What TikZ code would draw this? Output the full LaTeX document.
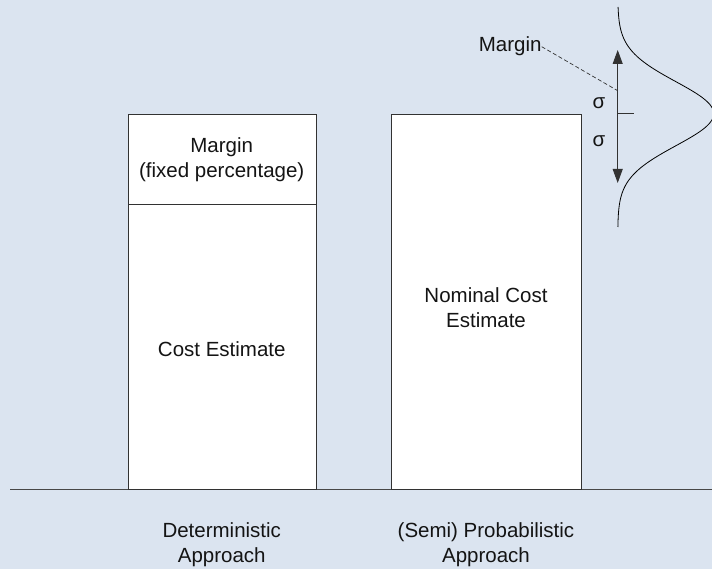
\documentclass[tikz,border=0pt]{standalone}
\usepackage{fontspec}
\setmainfont{Liberation Sans}
\usetikzlibrary{arrows.meta}
\definecolor{canvasbg}{RGB}{219,228,240}
\definecolor{edge}{RGB}{50,50,50}
\definecolor{txt}{RGB}{20,20,20}
\begin{document}
\begin{tikzpicture}[x=1pt,y=-1pt,
  every node/.style={font=\fontsize{20.5}{25}\selectfont, text=txt},
  stackbox/.style={draw=edge, line width=0.9pt, fill=white, anchor=north west,
    inner sep=0pt},
  caption/.style={align=center, inner sep=0pt},
  sigmalbl/.style={inner sep=0pt},
  spread/.style={draw=edge, line width=0.9pt,
    {Triangle[length=14pt,width=10pt]}-{Triangle[length=14pt,width=10pt]}},
  leader/.style={draw=edge, line width=0.7pt, dash pattern=on 4pt off 2.5pt},
  bell/.style={draw=black, line width=0.8pt}
]
% canvas
\fill[canvasbg] (0,0) rectangle (712,569);
\useasboundingbox (0,0) rectangle (712,569);

% ground line
\coordinate (gl) at (10,489);
\coordinate (gr) at (712,489);
\draw[draw=edge!90, line width=1pt] (gl) -- (gr);

% deterministic stack
\node[stackbox, minimum width=188.5pt, minimum height=89.7pt] (margin) at (127.5,114) {};
\node[stackbox, minimum width=188.5pt, minimum height=285.3pt] (cost) at (127.5,203.7) {};
\node[caption] (margintxt) at (221.75,160) {Margin\\(fixed percentage)};
\node[caption] (costtxt) at (221.75,349) {Cost Estimate};

% probabilistic stack
\node[stackbox, minimum width=189.4pt, minimum height=375pt] (nominal) at (391.3,114) {};
\node[caption] (nomtxt) at (486,308) {Nominal Cost\\Estimate};

% captions
\node[caption] (detcap) at (221.75,545) {Deterministic\\Approach};
\node[caption] (probcap) at (486,545) {(Semi) Probabilistic\\Approach};

% spread of the nominal estimate
\coordinate (sigtop) at (617.7,50);
\coordinate (sigbot) at (617.7,183);
\coordinate (mean) at (617.7,113.7);
\coordinate (meanr) at (634.3,113.7);
\coordinate (mhit) at (617.7,90.7);
\draw[spread] (sigtop) -- (sigbot);
\draw[draw=edge, line width=0.9pt] (mean) -- (meanr);
\node[sigmalbl] (s1) at (599,103) {σ};
\node[sigmalbl] (s2) at (599,141) {σ};

% margin label and its leader
\node[inner sep=0pt, anchor=east] (mlbl) at (541.7,46.7) {Margin};
\draw[leader] (mlbl.east) -- (mhit);

% distribution curve
\begin{scope}
  \clip (0,0) rectangle (712,569);
  \draw[bell] plot[domain=7:227, samples=160, smooth]
    ({617.7+96*exp(-0.5*((\x-113.7)/32)^2)}, \x);
\end{scope}
\end{tikzpicture}
\end{document}
